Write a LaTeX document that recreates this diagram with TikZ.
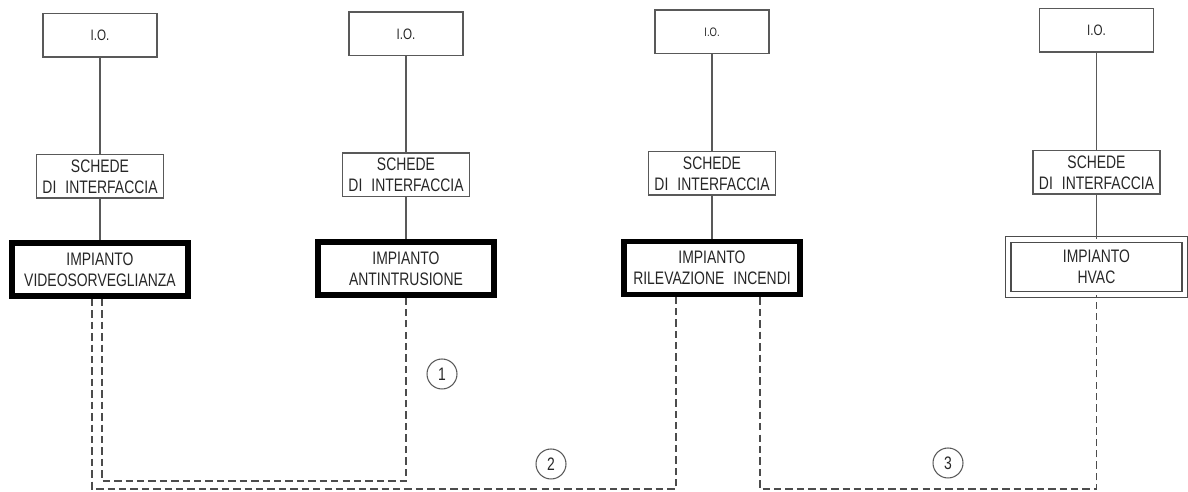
\documentclass[tikz,border=0pt]{standalone}
\usepackage{fontspec}
\setmainfont{Liberation Sans}[FakeStretch=0.77]
\usepackage{tikz}
\tikzset{
    every node/.style={text=black!85, font=\fontsize{10.3}{12.2}\selectfont},
    io/.style={draw=black!65, line width=0.85pt, minimum width=2.29cm, minimum height=0.87cm, inner sep=0pt, font=\fontsize{8.6}{10}\selectfont},
    card/.style={draw=black!65, line width=0.85pt, minimum width=2.55cm, minimum height=0.87cm, inner sep=0pt, align=center},
    plant/.style={draw=black, line width=3.4pt, minimum width=3.52cm, minimum height=1.06cm, inner sep=0pt, align=center},
    hvac/.style={draw=black!70, line width=0.74pt, double, double distance=2.4pt, minimum width=3.53cm, minimum height=1.1cm, inner sep=0pt, align=center},
    wire/.style={draw=black!65, line width=0.8pt},
    link/.style={draw=black!70, line width=0.7pt, dash pattern=on 4.2pt off 2.3pt},
    num/.style={circle, draw=black!65, line width=0.6pt, minimum size=0.6cm, inner sep=0pt},
}

\begin{document}
\begin{tikzpicture}[x=0.02cm, y=-0.02cm]
    \useasboundingbox (0,0) rectangle (1188,492);

    % I.O.
    \node[io] (io1) at (100,35.5) {I.O.};
    \node[io] (io2) at (406,34) {I.O.};
    \node[io, font=\fontsize{7}{8}\selectfont] (io3) at (712,32) {I.O.};
    \node[io] (io4) at (1096.5,30.5) {I.O.};

    % schede
    \node[card] (sc1) at (100,176.5) {SCHEDE\\DI\enspace INTERFACCIA};
    \node[card] (sc2) at (406,175) {SCHEDE\\DI\enspace INTERFACCIA};
    \node[card] (sc3) at (712,173.5) {SCHEDE\\DI\enspace INTERFACCIA};
    \node[card] (sc4) at (1096.5,172.5) {SCHEDE\\DI\enspace INTERFACCIA};

    % impianti
    \node[plant] (imp1) at (100,269.5) {IMPIANTO\\VIDEOSORVEGLIANZA};
    \node[plant] (imp2) at (406,268.5) {IMPIANTO\\ANTINTRUSIONE};
    \node[plant] (imp3) at (712,268) {IMPIANTO\\RILEVAZIONE\enspace INCENDI};
    \node[hvac] (imp4) at (1096.5,267) {IMPIANTO\\HVAC};

    \foreach \i in {1,...,4}
        \draw[wire] (io\i) -- (sc\i) -- (imp\i);

    % collegamenti
    \coordinate (k1) at (102,481);
    \coordinate (k2) at (92,489);
    \coordinate (k2b) at (676,489);
    \coordinate (k3) at (760,489);
    \draw[link] (k1 |- imp1.south) -- (k1) -| (imp2.south);
    \draw[link] (k2 |- imp1.south) -- (k2) -- (k2b) -- (k2b |- imp3.south);
    \draw[link] (k3 |- imp3.south) -- (k3) -| (imp4.south);

    \node[num] (n1) at (442,374) {1};
    \node[num] (n2) at (551,464) {2};
    \node[num] (n3) at (948,463) {3};
\end{tikzpicture}
\end{document}
